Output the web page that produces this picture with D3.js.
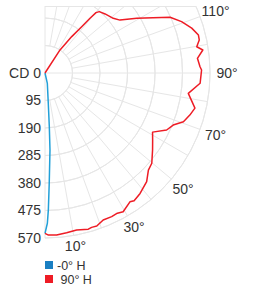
<!DOCTYPE html>
<html>
<head>
<meta charset="utf-8">
<script src="https://cdn.jsdelivr.net/npm/d3@7"></script>
<style>
  body { margin: 0; background: #fff; }
  text { font-family: "Liberation Sans", Arial, sans-serif; fill: #333; }
</style>
</head>
<body>
<div id="container"></div>
<script>
var cdTicks = [0, 95, 190, 285, 380, 475, 570]
var angleTicks = [10, 30, 50, 70, 90, 110]
var seriesNames = ['-0° H', '\u00a090° H']
var seriesColors = ['#22a0d8', '#ee1c25']
var legendColors = ['#1a7fc2', '#ee1c25']

// -0° H plane
var blueAngles = [0, 0.9, 1.4, 2.2, 3.7, 4.6, 6.2, 12.6, 15]
var blueCd = [554, 519, 473, 381, 267, 186, 105, 37, 0]

// 90° H plane
var redAngles = [0, 1.2, 4.1, 7.7, 11.4, 15.5, 16.8, 18.7, 21.6, 24.9, 27.3, 29.4, 33.4, 34.9,
  38.3, 43.1, 46.8, 49.8, 54.4, 58.1, 61.2, 64.9, 67.9, 70.6, 73.8, 76.8, 81.9, 86.2, 91.1,
  92.3, 95.5, 98.3, 99.8, 102.1, 103.9, 107, 110.6, 114, 117.1, 120.8, 123.2, 125.2, 128.7,
  134.5, 138.5, 139.8, 140.6, 141.6, 143.7, 146.9, 150]
var redCd = [554, 560, 561, 557, 553, 560, 557, 558, 546, 547, 545, 550, 533, 538,
  530, 514, 490, 483, 457, 438, 424, 464, 478, 507, 521, 532, 500, 537, 541,
  536, 529, 551, 532, 545, 546, 530, 504, 473, 419, 369, 339, 317, 302,
  291, 283, 273, 245, 204, 156, 95, 0]

var width = 271, height = 288
var cx = 45, cy = 73, R = 165, topClip = 6

var svg = d3.select('#container').append('svg')
  .attr('width', width).attr('height', height)

var r = d3.scaleLinear().domain([0, 570]).range([0, R])
// angle measured from straight down, clockwise towards the right
function toRad(deg) { return Math.PI - deg * Math.PI / 180 }
function pt(deg, rad) {
  var a = deg * Math.PI / 180
  return [cx + rad * Math.sin(a), cy + rad * Math.cos(a)]
}
// labels sit a little further out where the text is wide
function labelR(deg) { return R + 9 + 8 * Math.abs(Math.sin(deg * Math.PI / 180)) }

svg.append('clipPath').attr('id', 'clip')
  .append('rect').attr('x', 0).attr('y', topClip).attr('width', width).attr('height', height)

var g = svg.append('g').attr('clip-path', 'url(#clip)')
var grid = g.append('g').attr('transform', 'translate(' + cx + ',' + cy + ')')
  .attr('fill', 'none').attr('stroke', '#e6e6e6').attr('stroke-width', 1)

// rings
grid.selectAll('path.ring').data(cdTicks.slice(1)).enter().append('path')
  .attr('class', 'ring')
  .attr('d', function (d) {
    return d3.arc()({ innerRadius: r(d), outerRadius: r(d), startAngle: 0, endAngle: Math.PI })
  })

// spokes every 10°
grid.selectAll('line.spoke').data(d3.range(0, 181, 10)).enter().append('line')
  .attr('class', 'spoke')
  .attr('x1', function (d) { return (d % 90 === 0 ? 0 : r(cdTicks[1])) * Math.sin(d * Math.PI / 180) })
  .attr('y1', function (d) { return (d % 90 === 0 ? 0 : r(cdTicks[1])) * Math.cos(d * Math.PI / 180) })
  .attr('x2', function (d) { return R * Math.sin(d * Math.PI / 180) })
  .attr('y2', function (d) { return R * Math.cos(d * Math.PI / 180) })

// top edge
var dyTop = cy - topClip
svg.append('line')
  .attr('x1', cx).attr('y1', topClip + 0.5)
  .attr('x2', cx + Math.sqrt(R * R - dyTop * dyTop)).attr('y2', topClip + 0.5)
  .attr('stroke', '#e6e6e6')

// curves
var line = d3.lineRadial()
  .angle(function (d) { return toRad(d[0]) })
  .radius(function (d) { return r(d[1]) })

var series = [
  d3.zip(blueAngles, blueCd),
  d3.zip(redAngles, redCd)
]
g.append('g').attr('transform', 'translate(' + cx + ',' + cy + ')')
  .selectAll('path.curve').data(series).enter().append('path')
  .attr('class', 'curve')
  .attr('d', line)
  .attr('fill', 'none')
  .attr('stroke', function (d, i) { return seriesColors[i] })
  .attr('stroke-width', 1.5)
  .attr('stroke-linejoin', 'round')

// cd labels
svg.selectAll('text.cd').data(cdTicks).enter().append('text')
  .attr('class', 'cd')
  .attr('x', cx - 4)
  .attr('y', function (d) { return cy + r(d) })
  .attr('dy', '0.35em')
  .attr('text-anchor', 'end')
  .style('font-size', '14px')
  .text(function (d, i) { return i === 0 ? 'CD ' + d : d })

// angle labels
svg.selectAll('text.ang').data(angleTicks).enter().append('text')
  .attr('class', 'ang')
  .attr('x', function (d) { return pt(d, labelR(d))[0] })
  .attr('y', function (d) { return pt(d, labelR(d))[1] })
  .attr('dy', '0.35em')
  .attr('text-anchor', 'middle')
  .style('font-size', '14px')
  .text(function (d) { return d + '°' })

// legend
var legend = svg.selectAll('g.legend').data(seriesNames).enter().append('g')
  .attr('class', 'legend')
  .attr('transform', function (d, i) { return 'translate(45,' + (261 + i * 14) + ')' })
legend.append('rect').attr('width', 8).attr('height', 8)
  .attr('fill', function (d, i) { return legendColors[i] })
legend.append('text').attr('x', 12).attr('y', 8.5)
  .style('font-size', '12.5px')
  .text(function (d) { return d })
</script>
</body>
</html>
